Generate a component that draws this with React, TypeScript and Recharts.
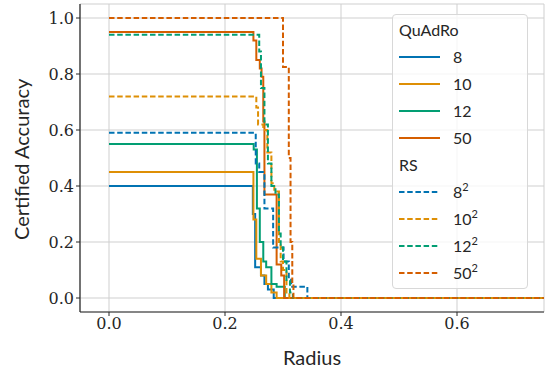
import React from "react";
import {
  LineChart,
  Line,
  XAxis,
  YAxis,
  CartesianGrid,
} from "recharts";

// step points: [radius, accuracy], value holds until the next point
const quadro8: [number, number][] = [
  [0, 0.4], [0.248, 0.3], [0.252, 0.11], [0.262, 0.08], [0.268, 0.05], [0.274, 0.03], [0.284, 0], [0.75, 0],
];
const quadro10: [number, number][] = [
  [0, 0.45], [0.249, 0.28], [0.254, 0.14], [0.262, 0.08], [0.271, 0.05], [0.28, 0.02], [0.289, 0], [0.75, 0],
];
const quadro12: [number, number][] = [
  [0, 0.55], [0.2495, 0.53], [0.255, 0.32], [0.26, 0.2], [0.266, 0.13], [0.271, 0.11], [0.28, 0.05], [0.289, 0.04], [0.303, 0], [0.75, 0],
];
const quadro50: [number, number][] = [
  [0, 0.95], [0.249, 0.92], [0.254, 0.85], [0.26, 0.82], [0.263, 0.79], [0.266, 0.63], [0.268, 0.37], [0.289, 0.12], [0.297, 0.08], [0.302, 0], [0.75, 0],
];
const rs8: [number, number][] = [
  [0, 0.59], [0.253, 0.48], [0.259, 0.45], [0.268, 0.32], [0.283, 0.18], [0.301, 0.13], [0.31, 0.07], [0.314, 0.04], [0.342, 0], [0.75, 0],
];
const rs10: [number, number][] = [
  [0, 0.72], [0.254, 0.68], [0.257, 0.62], [0.266, 0.6], [0.273, 0.52], [0.28, 0.41], [0.285, 0.38], [0.293, 0.2], [0.296, 0.13], [0.3, 0.1], [0.306, 0.02], [0.311, 0], [0.75, 0],
];
const rs12: [number, number][] = [
  [0, 0.94], [0.259, 0.88], [0.262, 0.75], [0.268, 0.62], [0.274, 0.48], [0.28, 0.4], [0.287, 0.37], [0.293, 0.23], [0.296, 0.18], [0.3, 0.13], [0.306, 0.06], [0.312, 0.02], [0.317, 0], [0.75, 0],
];
const rs50: [number, number][] = [
  [0, 1.0], [0.3, 0.825], [0.31, 0.5], [0.313, 0.2], [0.316, 0.05], [0.318, 0], [0.75, 0],
];

const xTicks = [0, 0.2, 0.4, 0.6];
const yTicks = [0, 0.2, 0.4, 0.6, 0.8, 1.0];

const BLUE = "#0173b2";
const ORANGE = "#de8f05";
const GREEN = "#029e73";
const RED = "#d55e00";

const toRows = (pts: [number, number][]) => pts.map(([x, y]) => ({ x, y }));

const series = [
  { name: "8", pts: quadro8, color: BLUE, dashed: false },
  { name: "10", pts: quadro10, color: ORANGE, dashed: false },
  { name: "12", pts: quadro12, color: GREEN, dashed: false },
  { name: "50", pts: quadro50, color: RED, dashed: false },
  { name: "8", pts: rs8, color: BLUE, dashed: true },
  { name: "10", pts: rs10, color: ORANGE, dashed: true },
  { name: "12", pts: rs12, color: GREEN, dashed: true },
  { name: "50", pts: rs50, color: RED, dashed: true },
];

const SANS = "Lato, 'Open Sans', sans-serif";
const SERIF = "'DejaVu Serif', serif";

function LegendRow({ color, dashed, label, sup }: { color: string; dashed: boolean; label: string; sup?: boolean }) {
  return (
    <div style={{ display: "flex", alignItems: "center", height: 27 }}>
      <svg width={42} height={6} style={{ marginLeft: 6 }}>
        <line x1={0} y1={3} x2={41} y2={3} stroke={color} strokeWidth={2} strokeDasharray={dashed ? "5.5 2.7" : undefined} />
      </svg>
      <span style={{ marginLeft: 12 }}>
        {label}
        {sup ? <sup style={{ fontSize: 11, verticalAlign: 7, lineHeight: 0 }}>2</sup> : null}
      </span>
    </div>
  );
}

function CustomLegend() {
  return (
    <div
      style={{
        position: "absolute",
        left: 392,
        top: 14,
        width: 136,
        height: 275,
        boxSizing: "border-box",
        border: "1px solid #d8d8d8",
        borderRadius: 4,
        background: "rgba(255,255,255,0.8)",
        fontFamily: SANS,
        fontSize: 16,
        color: "#262626",
        paddingTop: 1,
      }}
    >
      <div style={{ height: 27, lineHeight: "27px", paddingLeft: 6 }}>QuAdRo</div>
      {series.slice(0, 4).map((s, i) => (
        <LegendRow key={"q" + i} color={s.color} dashed={false} label={s.name} />
      ))}
      <div style={{ height: 27, lineHeight: "27px", paddingLeft: 6 }}>RS</div>
      {series.slice(4).map((s, i) => (
        <LegendRow key={"r" + i} color={s.color} dashed label={s.name} sup />
      ))}
    </div>
  );
}

export default function App() {
  return (
    <div style={{ position: "absolute", left: 0, top: 0, width: 551, height: 373, background: "#fff" }}>
      <LineChart width={551} height={373} margin={{ top: 4, right: 7, left: 0, bottom: 0 }}>
        <CartesianGrid stroke="#cfcfcf" strokeWidth={1} horizontal vertical />
        <XAxis
          type="number"
          dataKey="x"
          domain={[-0.05, 0.75]}
          ticks={xTicks}
          allowDataOverflow
          tickFormatter={(v: number) => v.toFixed(1)}
          tick={{ fontSize: 16, fill: "#262626", fontFamily: SERIF }}
          tickLine={{ stroke: "#262626" }}
          tickSize={4}
          axisLine={{ stroke: "#262626", strokeWidth: 1.2 }}
          height={61}
          label={{ value: "Radius", position: "insideBottom", offset: 8, fontSize: 20, fill: "#262626", fontFamily: SANS }}
        />
        <XAxis
          xAxisId="top"
          orientation="top"
          type="number"
          domain={[-0.05, 0.75]}
          tick={false}
          tickLine={false}
          axisLine={{ stroke: "#262626", strokeWidth: 1.2 }}
          height={0}
        />
        <YAxis
          type="number"
          domain={[-0.05, 1.05]}
          ticks={yTicks}
          allowDataOverflow
          tickFormatter={(v: number) => v.toFixed(1)}
          tick={{ fontSize: 16, fill: "#262626", fontFamily: SERIF }}
          tickLine={{ stroke: "#262626" }}
          tickSize={4}
          axisLine={{ stroke: "#262626", strokeWidth: 1.2 }}
          width={80}
          label={{ value: "Certified Accuracy", angle: -90, position: "insideLeft", offset: 22, dy: 82, fontSize: 20, fill: "#262626", fontFamily: SANS }}
        />
        <YAxis
          yAxisId="right"
          orientation="right"
          domain={[-0.05, 1.05]}
          tick={false}
          tickLine={false}
          axisLine={{ stroke: "#262626", strokeWidth: 1.2 }}
          width={0}
        />
        {series.map((s, i) => (
          <Line
            key={i}
            data={toRows(s.pts)}
            dataKey="y"
            type="stepAfter"
            stroke={s.color}
            strokeWidth={2}
            strokeDasharray={s.dashed ? "5.5 2.7" : undefined}
            dot={false}
            activeDot={false}
            isAnimationActive={false}
          />
        ))}
      </LineChart>
      <CustomLegend />
    </div>
  );
}
